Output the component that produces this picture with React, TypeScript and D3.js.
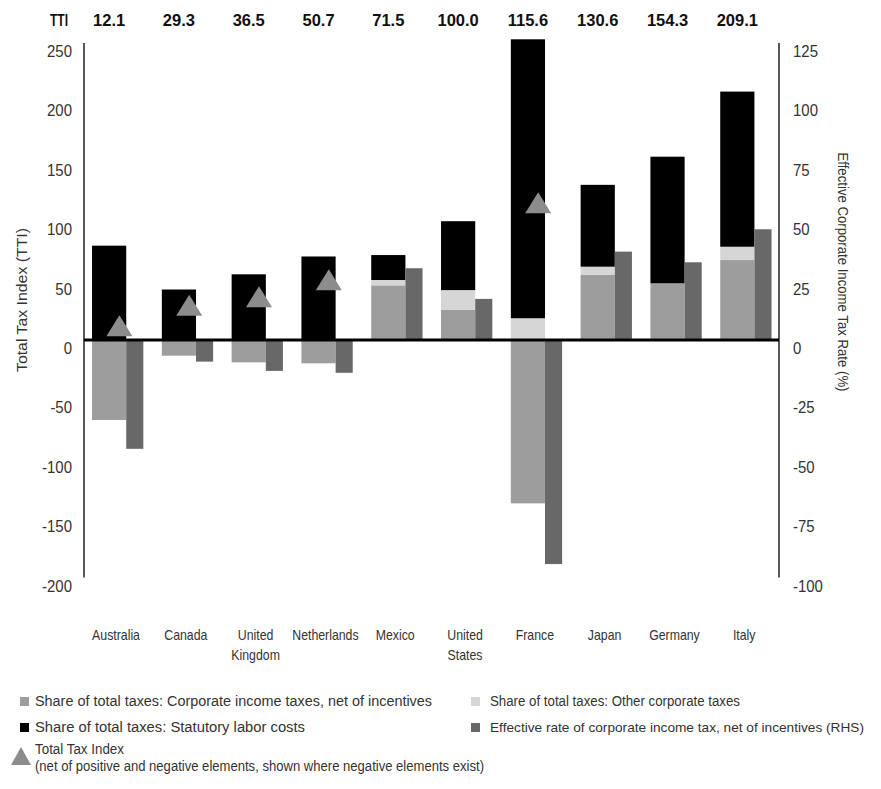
import React from "react";
import * as d3 from "d3";

// Countries, ordered by Total Tax Index
const countries = [
  "Australia",
  "Canada",
  "United Kingdom",
  "Netherlands",
  "Mexico",
  "United States",
  "France",
  "Japan",
  "Germany",
  "Italy",
];

// Total Tax Index (US = 100)
const tti = [12.1, 29.3, 36.5, 50.7, 71.5, 100.0, 115.6, 130.6, 154.3, 209.1];

// Share of total taxes (LHS units)
const corporateIncome = [-67.3, -13.2, -18.8, -19.6, 46.0, 25.3, -137.5, 54.7, 47.7, 67.3];
const otherCorporate = [0, 0, 0, 0, 4.5, 16.7, 18.3, 7.0, 0, 11.2];
const laborCosts = [79.4, 42.5, 55.3, 70.3, 21.0, 58.0, 234.8, 68.9, 106.6, 130.6];

// Effective corporate income tax rate, net of incentives (RHS, %)
const effectiveRate = [-45.8, -9.1, -13.0, -13.8, 30.2, 17.3, -94.3, 37.2, 32.7, 46.6];

// Countries that have negative elements get a TTI marker
const showMarker = [true, true, true, true, false, false, true, false, false, false];

// Axis ranges and tick labels
const leftDomain: [number, number] = [-200, 250];
const rightDomain: [number, number] = [-100, 125];
const leftTickValues = [-200, -150, -100, -50, 0, 50, 100, 150, 200, 250];
const rightTickValues = [-100, -75, -50, -25, 0, 25, 50, 75, 100, 125];

const legendItems = [
  "Share of total taxes: Corporate income taxes, net of incentives",
  "Share of total taxes: Other corporate taxes",
  "Share of total taxes: Statutory labor costs",
  "Effective rate of corporate income tax, net of incentives (RHS)",
];
const markerLegend = [
  "Total Tax Index",
  "(net of positive and negative elements, shown where negative elements exist)",
];

const W = 881;
const H = 789;
const plotLeft = 84;
const plotRight = 779;
const plotTop = 43;
const plotBottom = 577.6;

const COLORS = {
  corp: "#9d9d9d",
  other: "#d6d6d6",
  labor: "#000000",
  rate: "#686868",
  marker: "#8c8c8c",
  text: "#333333",
};

const SANS = "'Liberation Sans', Arial, sans-serif";

type NTextProps = {
  x: number;
  y: number;
  size: number;
  anchor?: "start" | "middle" | "end";
  sx?: number;
  rotate?: number;
  length?: number;
  children: React.ReactNode;
};

// Condensed-looking text: horizontally squeezed sans
function NText({ x, y, size, anchor = "start", sx = 0.88, rotate = 0, length, children }: NTextProps) {
  return (
    <text
      transform={`translate(${x},${y}) rotate(${rotate}) scale(${length ? 1 : sx},1)`}
      textAnchor={anchor}
      fontFamily={SANS}
      fontSize={size}
      fill={COLORS.text}
      textLength={length}
      lengthAdjust={length ? "spacingAndGlyphs" : undefined}
    >
      {children}
    </text>
  );
}

export default function App() {
  const x = d3.scaleBand<string>().domain(countries).range([plotLeft, plotLeft + 698]).paddingInner(0).paddingOuter(0);
  const bw = x.bandwidth();
  const stackOffset = bw * 0.115;
  const stackW = bw * 0.49;
  const rateW = bw * 0.245;

  const y = d3.scaleLinear().domain(leftDomain).range([plotBottom, plotTop]);
  const yR = d3.scaleLinear().domain(rightDomain).range([plotBottom, plotTop]);

  const triPath = (cx: number, cy: number, w: number, h: number) =>
    `M${cx},${cy - h / 2}L${cx + w / 2},${cy + h / 2}L${cx - w / 2},${cy + h / 2}Z`;

  const bars: React.ReactNode[] = [];
  const markers: React.ReactNode[] = [];
  countries.forEach((c, i) => {
    const x0 = (x(c) as number) + stackOffset;
    // positive stack starting at zero
    let base = 0;
    const segs: { v: number; color: string; key: string }[] = [];
    if (corporateIncome[i] > 0) segs.push({ v: corporateIncome[i], color: COLORS.corp, key: "corp" });
    segs.push({ v: otherCorporate[i], color: COLORS.other, key: "other" });
    segs.push({ v: laborCosts[i], color: COLORS.labor, key: "labor" });
    segs.forEach((s) => {
      if (s.v <= 0) return;
      const top = base + s.v;
      bars.push(
        <rect key={`${c}-${s.key}`} x={x0} y={y(top)} width={stackW} height={y(base) - y(top)} fill={s.color} />
      );
      base = top;
    });
    if (corporateIncome[i] < 0) {
      bars.push(
        <rect key={`${c}-corpneg`} x={x0} y={y(0)} width={stackW} height={y(corporateIncome[i]) - y(0)} fill={COLORS.corp} />
      );
    }
    const r = effectiveRate[i];
    bars.push(
      <rect
        key={`${c}-rate`}
        x={x0 + stackW}
        y={Math.min(yR(r), yR(0))}
        width={rateW}
        height={Math.abs(yR(r) - yR(0))}
        fill={COLORS.rate}
      />
    );
    if (showMarker[i]) {
      markers.push(
        <path key={`${c}-tti`} d={triPath(x0 + stackW * 0.8, y(tti[i]), 26, 21)} fill={COLORS.marker} />
      );
    }
  });

  return (
    <svg
      width={W}
      height={H}
      viewBox={`0 0 ${W} ${H}`}
      style={{ position: "absolute", left: 0, top: 0, background: "#fff" }}
    >
      <rect width={W} height={H} fill="#fff" />

      {/* TTI header row */}
      <text
        x={50}
        y={26}
        fontFamily={SANS}
        fontWeight="bold"
        fontSize={16}
        fill="#111"
        textLength={18}
        lengthAdjust="spacingAndGlyphs"
      >
        TTI
      </text>
      {countries.map((c, i) => (
        <text
          key={`tti-${c}`}
          x={(x(c) as number) + stackOffset + stackW / 2}
          y={26}
          textAnchor="middle"
          fontFamily={SANS}
          fontWeight="bold"
          fontSize={16.5}
          fill="#111"
        >
          {tti[i].toFixed(1)}
        </text>
      ))}

      {/* bars */}
      {bars}

      {/* zero line */}
      <line x1={plotLeft} x2={plotRight} y1={y(0)} y2={y(0)} stroke="#000" strokeWidth={3} />

      {/* axes */}
      <line x1={plotLeft} x2={plotLeft} y1={plotTop} y2={plotBottom} stroke="#000" strokeWidth={1.3} />
      <line x1={plotRight} x2={plotRight} y1={plotTop} y2={plotBottom} stroke="#000" strokeWidth={1.3} />

      {/* TTI markers */}
      {markers}

      {/* left ticks */}
      {leftTickValues.map((t) => (
        <NText key={`l${t}`} x={72} y={y(t) + 14} anchor="end" size={17} sx={0.88}>
          {t}
        </NText>
      ))}
      {/* right ticks */}
      {rightTickValues.map((t) => (
        <NText key={`r${t}`} x={793} y={yR(t) + 14} anchor="start" size={17} sx={0.88}>
          {t}
        </NText>
      ))}

      {/* axis titles */}
      <NText x={27} y={300} rotate={-90} anchor="middle" size={15} length={144}>
        Total Tax Index (TTI)
      </NText>
      <NText x={838} y={272} rotate={90} anchor="middle" size={15} length={239}>
        Effective Corporate Income Tax Rate (%)
      </NText>

      {/* country labels */}
      {countries.map((c) => {
        const lines = c.startsWith("United ") ? c.split(" ") : [c];
        const cx = (x(c) as number) + stackOffset + 24;
        return (
          <g key={`c-${c}`}>
            {lines.map((ln, k) => (
              <NText key={k} x={cx} y={640 + k * 20} anchor="middle" size={14} sx={0.88}>
                {ln}
              </NText>
            ))}
          </g>
        );
      })}

      {/* legend */}
      <rect x={20} y={697} width={9} height={9} fill={COLORS.corp} />
      <NText x={35} y={706} size={14} length={397}>{legendItems[0]}</NText>
      <rect x={471} y={697} width={9} height={9} fill={COLORS.other} />
      <NText x={490} y={706} size={14} length={250}>{legendItems[1]}</NText>
      <rect x={20} y={723} width={9} height={9} fill={COLORS.labor} />
      <NText x={35} y={732} size={14} length={270}>{legendItems[2]}</NText>
      <rect x={471} y={723} width={9} height={9} fill={COLORS.rate} />
      <NText x={490} y={732} size={13.5} length={374}>{legendItems[3]}</NText>
      <path d={triPath(21, 756, 20, 18)} fill={COLORS.marker} />
      <NText x={35} y={754} size={14} length={89}>{markerLegend[0]}</NText>
      <NText x={35} y={771} size={14} length={449}>{markerLegend[1]}</NText>
    </svg>
  );
}
